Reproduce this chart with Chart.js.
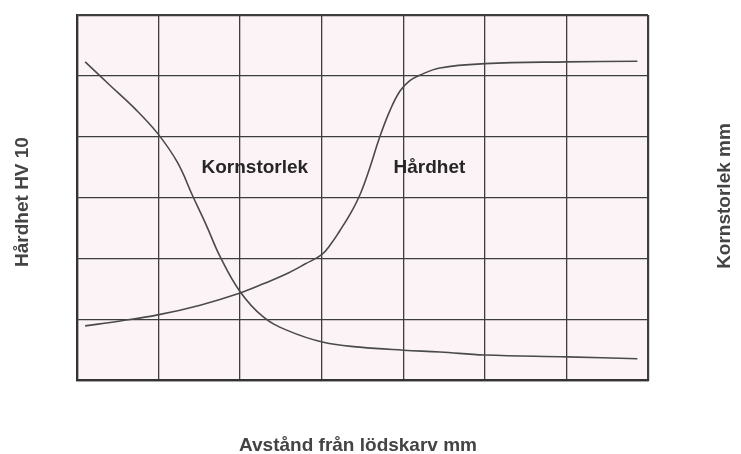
<!DOCTYPE html>
<html>
<head>
<meta charset="utf-8">
<script src="https://cdn.jsdelivr.net/npm/chart.js@4/dist/chart.umd.min.js"></script>
<style>
  html, body { margin: 0; padding: 0; background: #ffffff; }
  #wrap { width: 741px; height: 454px; }
</style>
</head>
<body>
<div id="wrap"><canvas id="c" width="741" height="454"></canvas></div>
<script>
// Grid units (no numeric ticks in the original)
const xGridMax = 7;
const yGridMax = 6;

// Kornstorlek (grain size) curve
const kornX = [0.10, 0.40, 0.71, 0.99, 1.23, 1.42, 1.59, 1.75, 2.00, 2.28, 2.57, 3.02, 3.47, 4.00, 4.45, 5.00, 6.01, 6.87];
const kornY = [5.23, 4.85, 4.46, 4.05, 3.58, 3.02, 2.53, 2.04, 1.45, 1.04, 0.82, 0.62, 0.54, 0.49, 0.46, 0.41, 0.38, 0.35];

// Hårdhet (hardness) curve
const hardX = [0.10, 0.53, 0.99, 1.51, 2.00, 2.30, 2.59, 2.80, 3.00, 3.11, 3.22, 3.35, 3.47, 3.59, 3.71, 3.84, 3.96, 4.08, 4.20, 4.45, 5.00, 6.00, 6.87];
const hardY = [0.89, 0.97, 1.07, 1.23, 1.43, 1.59, 1.76, 1.91, 2.06, 2.23, 2.45, 2.73, 3.05, 3.49, 3.99, 4.44, 4.75, 4.92, 5.01, 5.13, 5.20, 5.23, 5.24];

// Text labels
const xTitle = 'Avstånd från lödskarv mm';
const yLeftTitle = 'Hårdhet HV 10';
const yRightTitle = 'Kornstorlek mm';
const curveLabels = [
  { text: 'Kornstorlek', x: 2.18, y: 3.49 },
  { text: 'Hårdhet', x: 4.32, y: 3.49 }
];

const toPts = (xs, ys) => xs.map((x, i) => ({ x: x, y: ys[i] }));

const decor = {
  id: 'decor',
  beforeDraw(chart) {
    const { ctx, chartArea: a } = chart;
    ctx.save();
    ctx.fillStyle = '#fcf3f6';
    ctx.fillRect(a.left, a.top, a.right - a.left, a.bottom - a.top);
    ctx.restore();
  },
  afterDraw(chart) {
    const { ctx, scales } = chart;
    ctx.save();
    ctx.font = 'bold 19px "Liberation Sans", Arial, sans-serif';
    ctx.textAlign = 'center';
    ctx.textBaseline = 'middle';
    ctx.fillStyle = '#262626';
    curveLabels.forEach(l => {
      ctx.fillText(l.text, scales.x.getPixelForValue(l.x), scales.y.getPixelForValue(l.y));
    });
    ctx.fillStyle = '#444444';
    ctx.fillText(xTitle, 358, 446);
    ctx.save();
    ctx.translate(23, 202);
    ctx.rotate(-Math.PI / 2);
    ctx.fillText(yLeftTitle, 0, 0);
    ctx.restore();
    ctx.save();
    ctx.translate(725, 196);
    ctx.rotate(-Math.PI / 2);
    ctx.fillText(yRightTitle, 0, 0);
    ctx.restore();
    ctx.restore();
  }
};

const edgeWidth = (max) => (c) => (c.tick && (c.tick.value === 0 || c.tick.value === max)) ? 2.2 : 1.3;

new Chart(document.getElementById('c'), {
  type: 'line',
  data: {
    datasets: [
      { label: 'Kornstorlek', data: toPts(kornX, kornY), borderColor: '#4a4a4a', borderWidth: 1.6, pointRadius: 0, tension: 0.4, fill: false },
      { label: 'Hårdhet', data: toPts(hardX, hardY), borderColor: '#4a4a4a', borderWidth: 1.6, pointRadius: 0, tension: 0.4, fill: false }
    ]
  },
  options: {
    responsive: false,
    animation: false,
    devicePixelRatio: 1,
    layout: { padding: { left: 77, right: 93, top: 15, bottom: 74 } },
    plugins: { legend: { display: false }, tooltip: { enabled: false } },
    scales: {
      x: {
        type: 'linear', min: 0, max: xGridMax,
        ticks: { display: false, stepSize: 1 },
        grid: { color: '#3d3d3d', lineWidth: edgeWidth(xGridMax), drawTicks: false },
        border: { display: true, color: '#333', width: 2.2 }
      },
      y: {
        type: 'linear', min: 0, max: yGridMax,
        ticks: { display: false, stepSize: 1 },
        grid: { color: '#3d3d3d', lineWidth: edgeWidth(yGridMax), drawTicks: false },
        border: { display: true, color: '#333', width: 2.2 }
      }
    }
  },
  plugins: [decor]
});
</script>
</body>
</html>
